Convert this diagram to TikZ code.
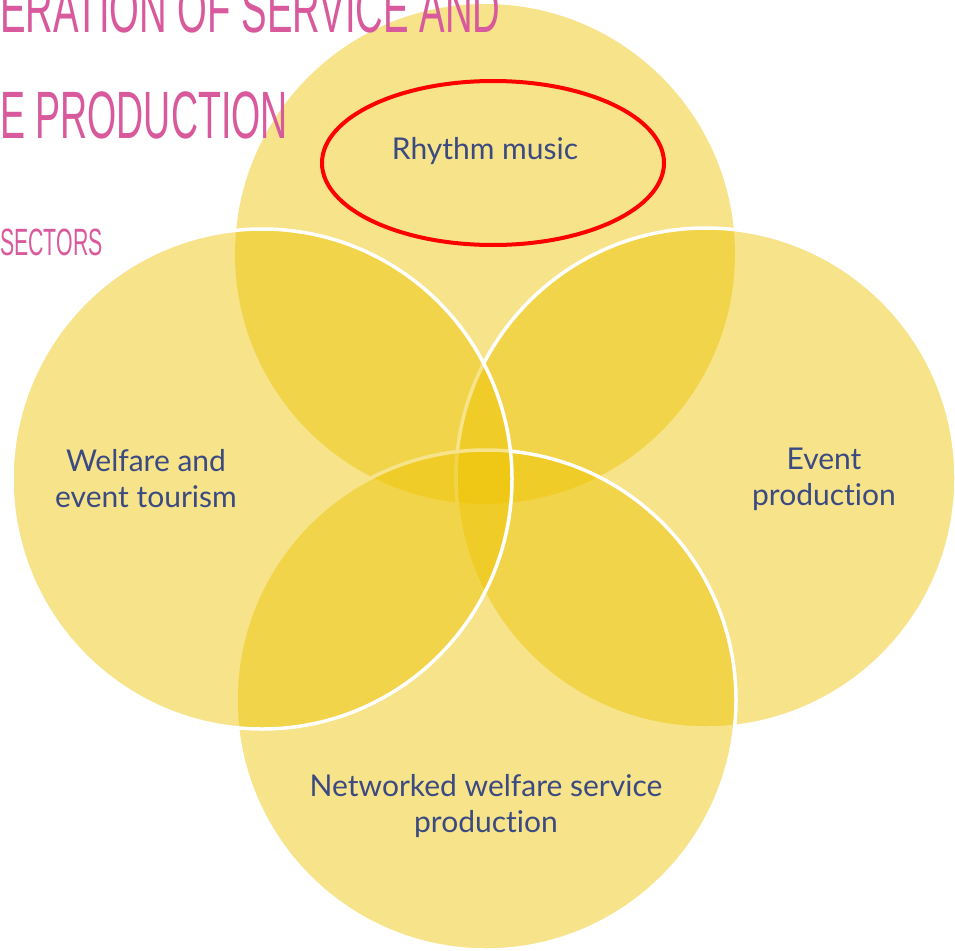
\documentclass[tikz,border=0pt]{standalone}
\usepackage{fontspec}
\setmainfont{Lato}[Ligatures={NoCommon}]
\newfontfamily\titlefont{Liberation Sans}
\usetikzlibrary{shapes.geometric}
\definecolor{circ}{RGB}{238,196,0}
\definecolor{navy}{RGB}{59,74,128}
\definecolor{pinkt}{RGB}{216,90,156}
\begin{document}
\begin{tikzpicture}[x=1pt,y=-1pt,
  venn/.style={circle, minimum size=500pt, inner sep=0pt, fill=circ, fill opacity=0.46, draw=white, line width=3.5pt},
  lbl/.style={text=navy, font=\fontsize{30}{36}\selectfont, align=center},
  ttl/.style={text=pinkt, anchor=base west, inner sep=0pt, xscale=0.56}]
\useasboundingbox (0,0) rectangle (955,950);
\clip (0,0) rectangle (955,950);
\fill[white] (0,0) rectangle (955,950);
% circles
\node[venn, draw=none] (ctop) at (485,254) {};
\node[venn] (cright) at (706,478) {};
\node[venn] (cbottom) at (486,700) {};
\node[venn] (cleft) at (262,479) {};
% title fragments
\node[ttl, font=\titlefont\fontsize{67}{67}\selectfont, xscale=1.02] (t1) at (0,33) {ERATION OF SERVICE AND};
\node[ttl, font=\titlefont\fontsize{67}{67}\selectfont] (t2) at (0,138) {E PRODUCTION};
\node[ttl, font=\titlefont\fontsize{38}{38}\selectfont] (t3) at (0,255) {SECTORS};
% labels
\node[lbl] (lrhythm) at (485,151) {Rhythm music};
\node[lbl] (lleft) at (146,479) {Welfare and\\event tourism};
\node[lbl] (lright) at (824,479) {Event\\production};
\node[lbl] (lbottom) at (486,806) {Networked welfare service\\production};
% highlight
\node[ellipse, draw=red, line width=4pt, minimum width=342pt, minimum height=164pt] (hl) at (493,163) {};
\end{tikzpicture}
\end{document}
